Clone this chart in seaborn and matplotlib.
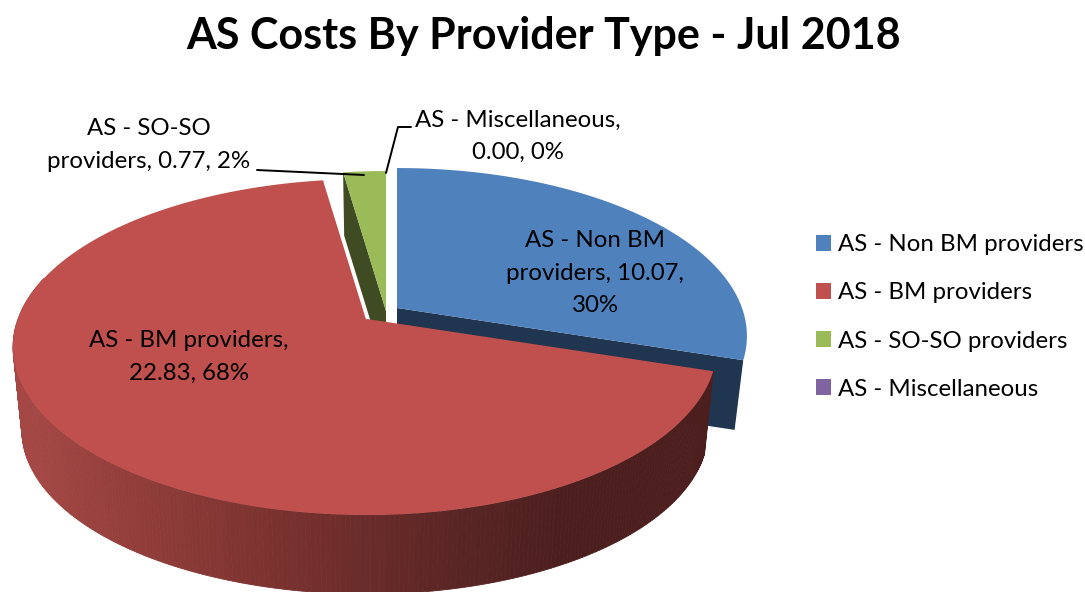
import numpy as np
import matplotlib
matplotlib.use('Agg')
import matplotlib.pyplot as plt
from matplotlib.colors import LinearSegmentedColormap
from matplotlib.patches import Patch
import seaborn as sns

# chart data
categories = ['AS - Non BM providers', 'AS - BM providers', 'AS - SO-SO providers', 'AS - Miscellaneous']
values = [10.07, 22.83, 0.77, 0.00]
title = 'AS Costs By Provider Type - Jul 2018'

sns.set_theme(style='white')
plt.rcParams['font.family'] = ['Lato', 'DejaVu Sans']
palette = sns.color_palette(['#4F81BD', '#C0504D', '#9BBB59', '#8064A2'])
dark_faces = ['#1F3550', '#4C1F1E', '#3F4B23', '#3F2F50']

# where each slice's tip ends up after exploding, in pixels
tips = [(397, 308), (367, 319), (386, 311), (386, 311)]
drops = [71, 84, 60, 60]

# perspective of the pie disc
RX_RIGHT, RX_LEFT, RY, PERSP = 345, 349, 163.3, 0.1667
SHRINK = 0.975

# shade of the outer wall, from left to right
wall_cmap = LinearSegmentedColormap.from_list('wall', [
    (0.0, '#A54845'), (0.19, '#8F3C39'), (0.41, '#76302D'),
    (0.63, '#5A2625'), (0.79, '#4C1F1E'), (1.0, '#4C1F1E')])


def project(theta, tip, drop=0, shrink=1.0):
    """theta is in degrees, clockwise from 12 o'clock"""
    rad = np.radians(theta)
    side = np.sin(rad)
    depth = -np.cos(rad)
    scale = shrink / (1 - PERSP * depth)
    rx = np.where(side > 0, RX_RIGHT, RX_LEFT)
    return tip[0] + rx * side * scale, tip[1] + drop + RY * depth * scale


fig = plt.figure(figsize=(10.85, 5.92), dpi=100)
ax = fig.add_axes([0, 0, 1, 1])
ax.set_xlim(0, 1085)
ax.set_ylim(592, 0)
ax.axis('off')

shares = np.array(values) / sum(values)
ends = np.cumsum(shares) * 360
starts = ends - shares * 360


def cut_face(i):
    # flat inner face below one straight edge of a slice
    tip, drop = tips[i], drops[i]
    theta = ends[i] if i == 0 else starts[i]
    x0, y0 = project(theta, tip)
    x1, y1 = project(theta, tip, drop, SHRINK)
    ax.fill([tip[0], x0, x1, tip[0]], [tip[1], y0, y1, tip[1] + drop],
            color=dark_faces[i], lw=0, zorder=1)


def top_face(i, z=2):
    theta = np.linspace(starts[i], ends[i], 200)
    x, y = project(theta, tips[i])
    ax.fill(np.r_[tips[i][0], x], np.r_[tips[i][1], y], facecolor=palette[i],
            edgecolor='none', zorder=z)


cut_face(0)
top_face(0)
cut_face(2)
top_face(2)

# red wall, drawn as many narrow strips so the shade changes along it
wall = np.linspace(starts[1], 285, 260)
for a, b in zip(wall[:-1], wall[1:]):
    xa, ya = project(a, tips[1])
    xb, yb = project(b, tips[1])
    xc, yc = project(b, tips[1], drops[1], SHRINK)
    xd, yd = project(a, tips[1], drops[1], SHRINK)
    col = wall_cmap(np.clip((xa - 20) / 690, 0, 1))
    ax.fill([xa, xb, xc, xd], [ya, yb, yc, yd], facecolor=col, edgecolor=col, lw=0.6, zorder=3)

top_face(1, z=4)

# thin white seam between the red slice and the green face
seam_x, seam_y = project(ends[1], tips[1])
ax.plot([tips[1][0], seam_x], [tips[1][1], seam_y], color='white', lw=1.6, zorder=4.5,
        solid_capstyle='butt')

# data labels
lab = dict(ha='center', va='center', fontsize=17.3, color='black', linespacing=1.65, zorder=6)
ax.text(595, 273, f'AS - Non BM\nproviders, {values[0]:.2f},\n{shares[0]:.0%}', **lab)
ax.text(189, 357, f'AS - BM providers,\n{values[1]:.2f}, {shares[1]:.0%}', **lab)
ax.text(149, 145, f'AS - SO-SO\nproviders, {values[2]:.2f}, {shares[2]:.0%}', **lab)
ax.text(518, 136, f'AS - Miscellaneous,\n{values[3]:.2f}, {shares[3]:.0%}', **lab)

# leader lines
ax.plot([257, 364], [170, 175], color='black', lw=1.4, zorder=5)
ax.plot([386, 398, 411], [173, 127, 127], color='black', lw=1.4, zorder=5)

ax.text(544, 36, title, ha='center', va='center', fontsize=31, fontweight='bold', color='black')

handles = [Patch(facecolor=c, edgecolor='none') for c in palette]
ax.legend(handles, categories, loc='center left', bbox_to_anchor=(809, 317),
          bbox_transform=ax.transData, frameon=False, fontsize=17.3, labelcolor='black',
          handlelength=0.62, handleheight=0.62, handletextpad=0.3, labelspacing=1.13,
          borderpad=0, borderaxespad=0.3)

fig.savefig('out.png', dpi=100)
